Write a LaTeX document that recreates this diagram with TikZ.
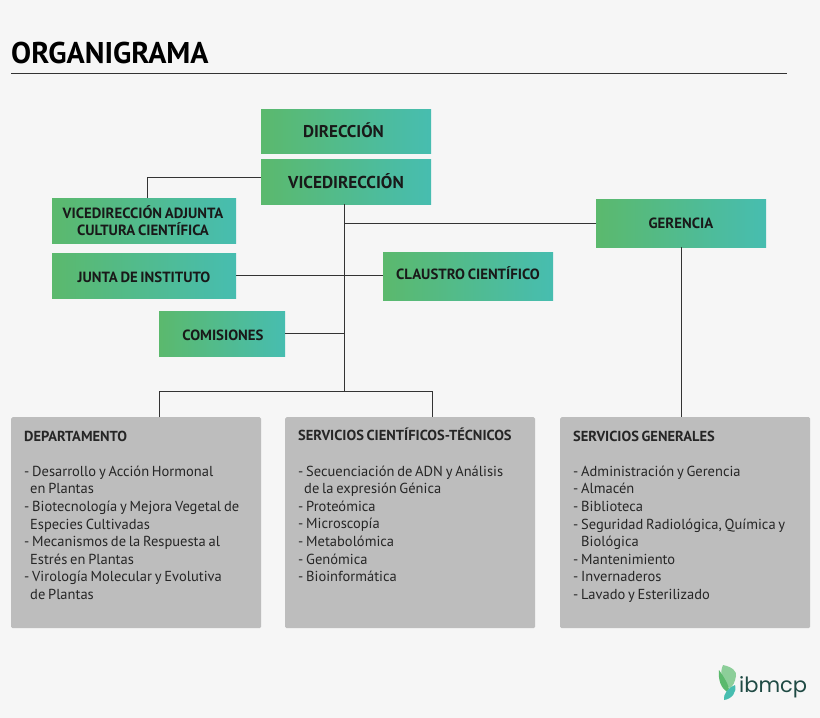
\documentclass[tikz,border=0pt]{standalone}
\usepackage{fontspec}
\setmainfont[WordSpace=0.72]{PT Sans}
\newfontfamily\logofont{Poppins}
\usetikzlibrary{positioning}
\definecolor{pagebg}{HTML}{F6F6F6}
\definecolor{leftgreen}{HTML}{5BB96D}
\definecolor{rightteal}{HTML}{47BDB0}
\definecolor{greybox}{HTML}{BDBDBD}
\definecolor{logotext}{HTML}{1F4A44}
\tikzset{
	orgbox/.style={left color=leftgreen, right color=rightteal, inner sep=0pt, minimum height=45pt, align=center, text=black!90, font=\fontsize{14.8}{17.5}\selectfont\bfseries},
	listbox/.style={fill=greybox, rounded corners=1.5pt, anchor=north west, minimum width=250pt, minimum height=211pt, inner sep=0pt},
	listtext/.style={anchor=north west, inner sep=0pt, align=left, text=black!85, font=\fontsize{14.5}{17.6}\selectfont},
	link/.style={draw=black!80, line width=1pt}
}
\begin{document}
\begin{tikzpicture}[x=1pt,y=-1pt]
	\useasboundingbox[fill=pagebg] (0,0) rectangle (820,718);
	\node [anchor=west, inner sep=0pt, font=\fontsize{30}{31}\selectfont\bfseries] (title) at (11,53) {ORGANIGRAMA};
	\coordinate (ruleend) at (787,73);
	\draw [black!80, line width=0.7pt] (ruleend -| title.west) -- (ruleend);

	\node [orgbox, minimum width=170pt, minimum height=44pt, text depth=2pt, font=\fontsize{17}{17.5}\selectfont\bfseries] (D) at (346,131) {\hspace*{-5pt}DIRECCIÓN};
	\node [orgbox, minimum width=170pt, font=\fontsize{17.2}{17.5}\selectfont\bfseries] (V) at (346,181.5) {VICEDIRECCIÓN};
	\node [orgbox, minimum width=184pt] (A) at (144,220.5) {\hspace*{-2pt}VICEDIRECCIÓN ADJUNTA\\\hspace*{-2pt}CULTURA CIENTÍFICA};
	\node [orgbox, minimum width=184pt, text height=14.5pt] (J) at (144,275.5) {JUNTA DE INSTITUTO};
	\node [orgbox, minimum width=170pt, minimum height=48pt, text depth=6pt] (C) at (468,276) {CLAUSTRO CIENTÍFICO};
	\node [orgbox, minimum width=170pt, minimum height=48pt] (G) at (681,223) {GERENCIA};
	\node [orgbox, minimum width=126pt, text height=14.5pt] (K) at (222,333.5) {\hspace*{2pt}COMISIONES};

	\node [listbox] (dep) at (11,417) {};
	\node [listbox] (ser) at (285,417) {};
	\node [listbox] (gen) at (560,417) {};
	\node [listtext] (deptext) at (24,430.5) {\textbf{DEPARTAMENTO}\\[17.6pt]
		- Desarrollo y Acción Hormonal\\
		\hspace*{6pt}en Plantas\\
		- Biotecnología y Mejora Vegetal de\\
		\hspace*{6pt}Especies Cultivadas\\
		- Mecanismos de la Respuesta al\\
		\hspace*{6pt}Estrés en Plantas\\
		- Virología Molecular y Evolutiva\\
		\hspace*{6pt}de Plantas};
	\node [listtext] (sertext) at (298,428) {\textbf{SERVICIOS CIENTÍFICOS-TÉCNICOS}\\[17.6pt]
		- Secuenciación de ADN y Análisis\\
		\hspace*{6pt}de la expresión Génica\\
		- Proteómica\\
		- Microscopía\\
		- Metabolómica\\
		- Genómica\\
		- Bioinformática};
	\node [listtext] (gentext) at (573,430.5) {\textbf{SERVICIOS GENERALES}\\[17.6pt]
		- Administración y Gerencia\\
		- Almacén\\
		- Biblioteca\\
		- Seguridad Radiológica, Química y\\
		\hspace*{8pt}Biológica\\
		- Mantenimiento\\
		- Invernaderos\\
		- Lavado y Esterilizado};

	\coordinate (trunk) at (344.5,391);
	\coordinate (elbow) at (147,177);
	\coordinate (depdrop) at (159,391);
	\coordinate (serdrop) at (432,391);
	\coordinate (gerdrop) at (681,417);

	\draw [link] (trunk |- V.south) -- (trunk);
	\draw [link] (depdrop |- dep.north) -- (depdrop) -- (serdrop) -- (serdrop |- ser.north);
	\draw [link] (elbow -| V.west) -- (elbow) -- (elbow |- A.north);
	\draw [link] (trunk |- G.west) -- (G.west);
	\draw [link] (J.east) -- (J.east -| C.west);
	\draw [link] (K.east) -- (K.east -| trunk);
	\draw [link] (G.south) -- (gerdrop);

	% logo
	\fill [leftgreen!70!white] (723,665) .. controls (733,667) and (737,672) .. (736,676) .. controls (735,682) and (733,686) .. (730,688) .. controls (722,684) and (719,674) .. (723,665);
	\fill [leftgreen] (719,670) .. controls (718,680) and (721,689) .. (728,692) .. controls (731,689) and (726,680) .. (719,670);
	\fill [rightteal] (735,685) .. controls (737,692) and (732,699) .. (724,700) .. controls (723,694) and (728,688) .. (735,685);
	\node [anchor=west, inner sep=0pt, text=logotext, font=\fontsize{21}{24}\logofont] (logo) at (739,687) {ibmcp};
\end{tikzpicture}
\end{document}
